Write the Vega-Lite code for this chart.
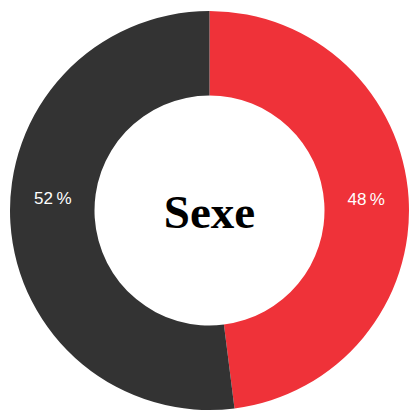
{
  "$schema": "https://vega.github.io/schema/vega-lite/v6.json",
  "width": 419,
  "height": 421,
  "autosize": "none",
  "padding": 0,
  "background": "white",
  "config": {"view": {"stroke": null}},
  "data": {"values": [
    {"sexe": "Hommes", "pct": 48},
    {"sexe": "Femmes", "pct": 52}
  ]},
  "transform": [
    {"calculate": "datum.pct + '\u2009%'", "as": "label"},
    {"stack": "pct", "groupby": [], "sort": [{"field": "pct", "order": "ascending"}], "as": ["t0", "t1"]},
    {"calculate": "(datum.t0 + datum.t1) / 2", "as": "mid"}
  ],
  "layer": [
    {
      "mark": {"type": "arc", "outerRadius": 199.5, "innerRadius": 115},
      "encoding": {
        "theta": {"field": "t0", "type": "quantitative", "scale": {"domain": [0, 100]}},
        "theta2": {"field": "t1"},
        "color": {"field": "sexe", "type": "nominal", "scale": {"domain": ["Hommes", "Femmes"], "range": ["#ef3239", "#333333"]}, "legend": null}
      }
    },
    {
      "transform": [{"filter": "datum.sexe == 'Hommes'"}],
      "mark": {"type": "text", "radius": 157, "fontSize": 17, "font": "Liberation Sans", "color": "white", "baseline": "middle", "align": "center", "dy": -1},
      "encoding": {
        "theta": {"field": "mid", "type": "quantitative"},
        "text": {"field": "label", "type": "nominal"}
      }
    },
    {
      "transform": [{"filter": "datum.sexe == 'Femmes'"}],
      "mark": {"type": "text", "radius": 157, "fontSize": 17, "font": "Liberation Sans", "color": "white", "baseline": "middle", "align": "center", "dy": -21},
      "encoding": {
        "theta": {"field": "mid", "type": "quantitative"},
        "text": {"field": "label", "type": "nominal"}
      }
    },
    {
      "data": {"values": [{"titre": "Sexe"}]},
      "mark": {"type": "text", "fontSize": 47, "font": "Liberation Serif", "fontWeight": "bold", "color": "black", "baseline": "middle", "align": "center", "dy": 3},
      "encoding": {
        "text": {"field": "titre", "type": "nominal"}
      }
    }
  ]
}
